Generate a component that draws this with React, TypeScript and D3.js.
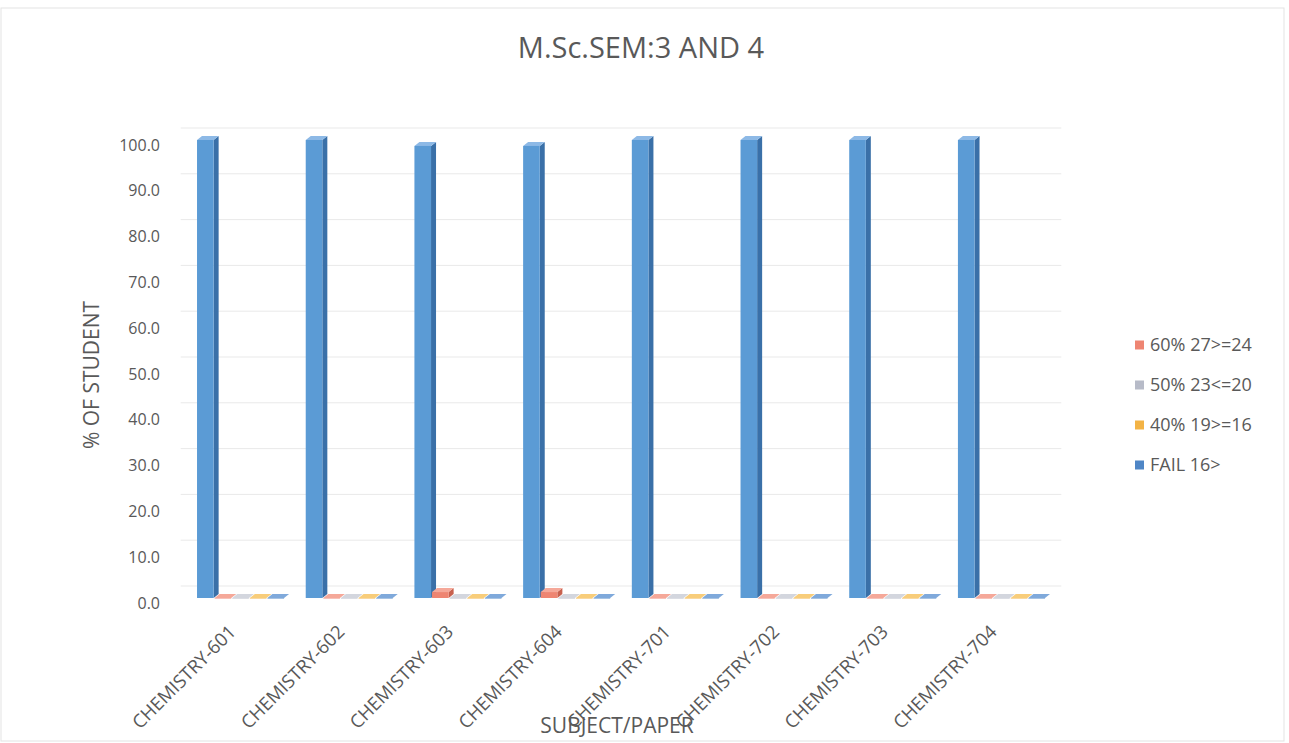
import React from "react";
import * as d3 from "d3";

const categories = [
  "CHEMISTRY-601",
  "CHEMISTRY-602",
  "CHEMISTRY-603",
  "CHEMISTRY-604",
  "CHEMISTRY-701",
  "CHEMISTRY-702",
  "CHEMISTRY-703",
  "CHEMISTRY-704",
];
const seriesNames = ["", "60% 27>=24", "50% 23<=20", "40% 19>=16", "FAIL 16>"];
const firstSeries = [100, 100, 98.7, 98.7, 100, 100, 100, 100];
const series60 = [0, 0, 1.3, 1.3, 0, 0, 0, 0];
const series50 = [0, 0, 0, 0, 0, 0, 0, 0];
const series40 = [0, 0, 0, 0, 0, 0, 0, 0];
const seriesFail = [0, 0, 0, 0, 0, 0, 0, 0];
const yTicks = [0, 10, 20, 30, 40, 50, 60, 70, 80, 90, 100];

const allSeries = [firstSeries, series60, series50, series40, seriesFail];
const fronts = ["#5B9BD5", "#EE8572", "#B7BBC8", "#F3B345", "#4F86C6"];
const sides = ["#3A70A8", "#C7614F", "#9097A8", "#CC8F26", "#35679F"];
const tops = ["#8DB9E6", "#F5A899", "#D3D6DE", "#F8CD7A", "#7FA9DB"];

const W = 1289;
const H = 743;
const DX = 5;
const DY = -4;
const FONT = "'Open Sans', sans-serif";
const TXT = "#595959";

export default function App() {
  const x = d3
    .scaleBand<string>()
    .domain(categories)
    .range([186.7, 1056.3])
    .paddingInner(0.19)
    .paddingOuter(0.095);
  const xs = d3
    .scaleBand<number>()
    .domain(d3.range(allSeries.length))
    .range([0, x.bandwidth()])
    .padding(0);
  const y = d3.scaleLinear().domain([0, 100]).range([598, 140]);

  const bars: React.ReactNode[] = [];
  categories.forEach((c, ci) => {
    allSeries.forEach((s, si) => {
      const v = s[ci];
      const x0 = (x(c) as number) + (xs(si) as number);
      const w = xs.bandwidth() - 1;
      const yt = y(v);
      const yb = y(0);
      const h = Math.max(yb - yt, 0);
      bars.push(
        <g key={`${ci}-${si}`}>
          <path
            d={`M${x0 + w},${yt} L${x0 + w + DX},${yt + DY} L${x0 + w + DX},${yb + DY} L${x0 + w},${yb} Z`}
            fill={sides[si]}
          />
          <path
            d={`M${x0},${yt} L${x0 + DX},${yt + DY} L${x0 + w + DX},${yt + DY} L${x0 + w},${yt} Z`}
            fill={tops[si]}
          />
          <rect x={x0} y={yt} width={w} height={Math.max(h, 0.5)} fill={fronts[si]} />
        </g>
      );
    });
  });

  const legendItems = seriesNames
    .map((n, i) => ({ n, i }))
    .filter((d) => d.n !== "");

  return (
    <svg width={W} height={H} style={{ position: "absolute", left: 0, top: 0, background: "#fff" }}>
      <rect x={1} y={8} width={W - 6} height={H - 10} fill="#fff" stroke="#e3e3e3" />
      <text x={641} y={58} textAnchor="middle" fontFamily={FONT} fontSize={29} fill={TXT}>
        M.Sc.SEM:3 AND 4
      </text>
      {yTicks.map((t) => (
        <g key={t}>
          <line
            x1={186.7 - 6}
            x2={1056.3 + DX}
            y1={y(t) + DY - 8}
            y2={y(t) + DY - 8}
            stroke="#e9e9e9"
            strokeWidth={1}
          />
          <text
            x={160}
            y={y(t) + 5}
            dy="0.35em"
            textAnchor="end"
            fontFamily={FONT}
            fontSize={16}
            fill={TXT}
          >
            {t.toFixed(1)}
          </text>
        </g>
      ))}
      {bars}
      {categories.map((c) => {
        const cx = (x(c) as number) + x.bandwidth() / 2 - 4;
        return (
          <text
            key={c}
            transform={`translate(${cx},${633}) rotate(-45)`}
            textAnchor="end"
            fontFamily={FONT}
            fontSize={18.5}
            fill={TXT}
          >
            {c}
          </text>
        );
      })}
      <text
        transform={`translate(${99},${375}) rotate(-90)`}
        textAnchor="middle"
        fontFamily={FONT}
        fontSize={21}
        fill={TXT}
      >
        % OF STUDENT
      </text>
      <text x={617} y={733} textAnchor="middle" fontFamily={FONT} fontSize={21} fill={TXT}>
        SUBJECT/PAPER
      </text>
      {legendItems.map((d, k) => (
        <g key={d.n} transform={`translate(1135,${345 + k * 40})`}>
          <rect x={0} y={-4.5} width={9} height={9} fill={fronts[d.i]} />
          <text x={15} y={0} dy="0.35em" fontFamily={FONT} fontSize={18} fill={TXT}>
            {d.n}
          </text>
        </g>
      ))}
    </svg>
  );
}
